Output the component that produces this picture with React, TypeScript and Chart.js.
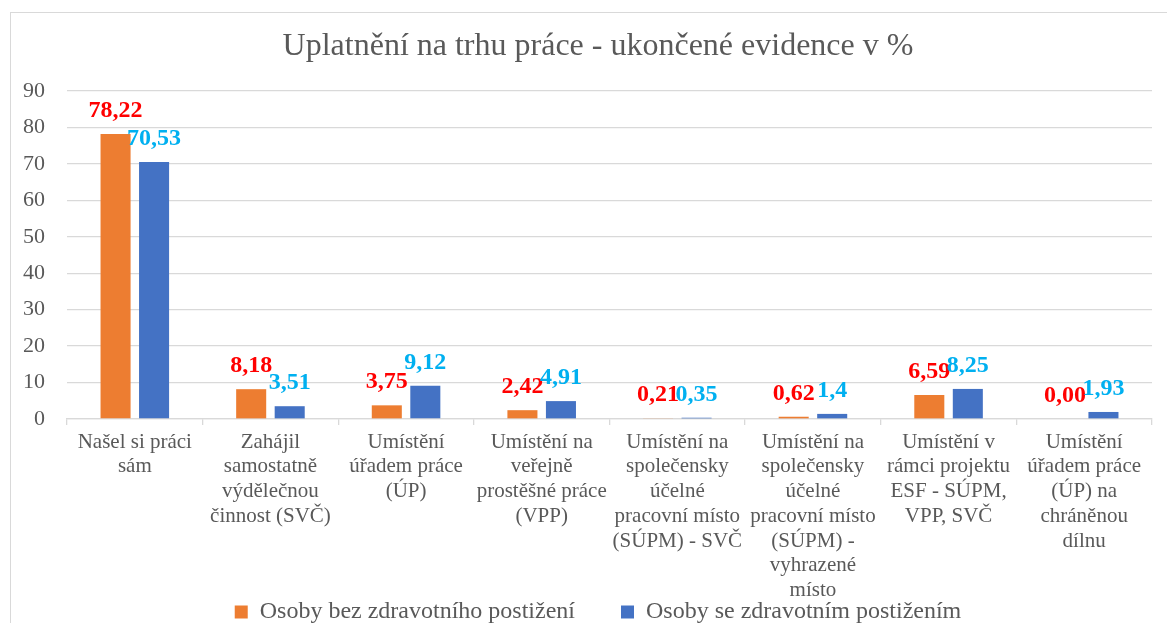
import React, { useEffect, useRef } from "react";
import { Chart, registerables } from "chart.js";

Chart.register(...registerables);

const SERIF = "'Liberation Serif', 'Times New Roman', serif";

const chartTitle = "Uplatnění na trhu práce - ukončené evidence v %";

const categories: string[][] = [
  ["Našel si práci", "sám"],
  ["Zahájil", "samostatně", "výdělečnou", "činnost (SVČ)"],
  ["Umístění", "úřadem práce", "(ÚP)"],
  ["Umístění na", "veřejně", "prostěšné práce", "(VPP)"],
  ["Umístění na", "společensky", "účelné", "pracovní místo", "(SÚPM) - SVČ"],
  ["Umístění na", "společensky", "účelné", "pracovní místo", "(SÚPM) -", "vyhrazené", "místo"],
  ["Umístění v", "rámci projektu", "ESF - SÚPM,", "VPP, SVČ"],
  ["Umístění", "úřadem práce", "(ÚP) na", "chráněnou", "dílnu"],
];

const seriesNames = ["Osoby bez zdravotního postižení", "Osoby se zdravotním postižením"];

const valuesWithout = [78.22, 8.18, 3.75, 2.42, 0.21, 0.62, 6.59, 0.0];
const valuesWith = [70.53, 3.51, 9.12, 4.91, 0.35, 1.4, 8.25, 1.93];

const labelsWithout = ["78,22", "8,18", "3,75", "2,42", "0,21", "0,62", "6,59", "0,00"];
const labelsWith = ["70,53", "3,51", "9,12", "4,91", "0,35", "1,4", "8,25", "1,93"];

const yMin = 0;
const yMax = 90;
const yStep = 10;

const barColors = ["#ED7D31", "#4472C4"];
const valueLabelColors = ["#FF0000", "#00B0F0"];
const valueLabelTexts = [labelsWithout, labelsWith];

const valueLabelPlugin = {
  id: "valueLabels",
  afterDatasetsDraw(chart: any) {
    const ctx = chart.ctx;
    ctx.save();
    ctx.font = `bold 24px ${SERIF}`;
    ctx.textAlign = "center";
    ctx.textBaseline = "alphabetic";
    chart.data.datasets.forEach((_ds: any, i: number) => {
      const meta = chart.getDatasetMeta(i);
      meta.data.forEach((el: any, j: number) => {
        ctx.fillStyle = valueLabelColors[i];
        ctx.fillText(valueLabelTexts[i][j], el.x, el.y - 17);
      });
    });
    ctx.restore();
  },
};

// Let the axis labels spill outside their (deliberately tight) layout boxes.
const unclipLabelsPlugin = {
  id: "unclipLabels",
  afterLayout(chart: any) {
    const x = chart.scales.x;
    const y = chart.scales.y;
    if (x) x.bottom = chart.height;
    if (y) y.left = 0;
  },
};

export default function App() {
  const canvasRef = useRef<HTMLCanvasElement | null>(null);

  useEffect(() => {
    if (!canvasRef.current) return;
    const chart = new Chart(canvasRef.current, {
      type: "bar",
      data: {
        labels: categories,
        datasets: [
          {
            label: seriesNames[0],
            data: valuesWithout,
            backgroundColor: barColors[0],
            borderWidth: 0,
            categoryPercentage: 0.568,
            barPercentage: 0.78,
          },
          {
            label: seriesNames[1],
            data: valuesWith,
            backgroundColor: barColors[1],
            borderWidth: 0,
            categoryPercentage: 0.568,
            barPercentage: 0.78,
          },
        ],
      },
      options: {
        animation: false,
        responsive: false,
        devicePixelRatio: 1,
        layout: { padding: { left: 44, right: 15, top: 0, bottom: 0 } },
        scales: {
          x: {
            offset: true,
            grid: {
              display: true,
              drawOnChartArea: false,
              drawTicks: true,
              tickLength: 6,
              color: "#D9D9D9",
              lineWidth: 1.3,
              offset: true,
            },
            border: { display: true, color: "#D9D9D9", width: 1.3 },
            ticks: {
              autoSkip: false,
              maxRotation: 0,
              minRotation: 0,
              padding: 4.6,
              color: "#595959",
              font: { family: SERIF, size: 21, lineHeight: 1.18 },
            },
            afterFit: (s: any) => {
              s.height = 135;
            },
          },
          y: {
            min: yMin,
            max: yMax,
            ticks: {
              stepSize: yStep,
              padding: 22,
              color: "#595959",
              font: { family: SERIF, size: 22 },
            },
            grid: { color: "#D9D9D9", lineWidth: 1.3, drawTicks: false },
            border: { display: false },
            afterFit: (s: any) => {
              s.width = 23;
            },
          },
        },
        plugins: {
          title: {
            display: true,
            text: chartTitle,
            color: "#595959",
            font: { family: SERIF, size: 32, weight: "normal", lineHeight: 1.2 },
            padding: { top: 27.5, bottom: 25.1 },
          },
          legend: {
            display: true,
            position: "bottom",
            labels: {
              boxWidth: 13,
              boxHeight: 13,
              padding: 46,
              color: "#595959",
              font: { family: SERIF, size: 24 },
            },
          },
          tooltip: { enabled: false },
        },
      },
      plugins: [valueLabelPlugin, unclipLabelsPlugin],
    } as any);
    return () => chart.destroy();
  }, []);

  return (
    <div
      style={{
        position: "fixed",
        left: 0,
        top: 0,
        width: 1167,
        height: 623,
        overflow: "hidden",
        background: "#ffffff",
      }}
    >
      <div
        style={{
          position: "absolute",
          left: 10,
          top: 12,
          width: 1220,
          height: 700,
          border: "1px solid #D9D9D9",
        }}
      />
      <canvas
        ref={canvasRef}
        width={1167}
        height={634}
        style={{ position: "absolute", left: 0, top: 0, width: 1167, height: 634 }}
      />
    </div>
  );
}
